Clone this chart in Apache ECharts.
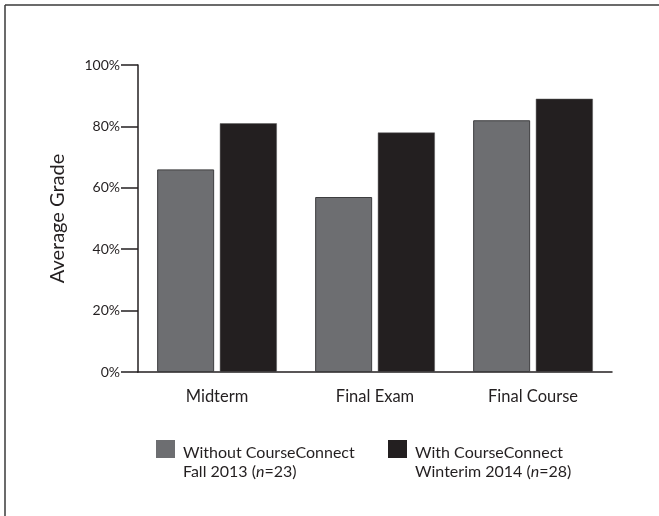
<!DOCTYPE html>
<html>
<head>
<meta charset="utf-8">
<script src="https://cdn.jsdelivr.net/npm/echarts@6/dist/echarts.min.js"></script>
<style>
  html, body { margin: 0; padding: 0; background: #fff; }
  #chart { width: 659px; height: 516px; }
</style>
</head>
<body>
<div id="chart"></div>
<script>
// categories and values (percent)
var categories = ["Midterm", "Final Exam", "Final Course"];
var withoutCC = [66, 57, 82];
var withCC = [81, 78, 89];
var yTicks = [0, 20, 40, 60, 80, 100];

var ink = "#231f20";
var font = "Lato";

var chart = echarts.init(document.getElementById("chart"));

// legend text: a tall blank first line lifts the square up beside the first line
function legendLabel(line1, line2a, line2b) {
  return "{e| }\n{s|" + line1 + "}\n{s|" + line2a + "}{i|n}{t|" + line2b + "}";
}
var legendRich = {
  e: { fontFamily: font, fontSize: 16, lineHeight: 27 },
  s: { fontFamily: font, fontSize: 16, color: ink, lineHeight: 19, padding: [0, 0, 0, 3] },
  t: { fontFamily: font, fontSize: 16, color: ink, lineHeight: 19 },
  i: { fontFamily: font, fontSize: 16, color: ink, lineHeight: 19, fontStyle: "italic" }
};

var option = {
  animation: false,
  backgroundColor: "#fff",
  grid: { left: 138, right: 47, top: 65, bottom: 144 },
  graphic: [
    // figure frame (top and left rules)
    { type: "line", shape: { x1: 5, y1: 5, x2: 659, y2: 5 }, style: { stroke: "#3a3a3a", lineWidth: 1.5 } },
    { type: "line", shape: { x1: 5, y1: 5, x2: 5, y2: 516 }, style: { stroke: "#3a3a3a", lineWidth: 1.5 } }
  ],
  legend: [
    {
      left: 156, top: 422, padding: 0,
      itemWidth: 19, itemHeight: 18,
      icon: "rect",
      itemStyle: { borderWidth: 0 },
      data: ["Without CourseConnect"],
      formatter: function () { return legendLabel("Without CourseConnect", "Fall 2013 (", "=23)"); },
      textStyle: { rich: legendRich }
    },
    {
      left: 388, top: 422, padding: 0,
      itemWidth: 19, itemHeight: 18,
      icon: "rect",
      itemStyle: { borderWidth: 0 },
      data: ["With CourseConnect"],
      formatter: function () { return legendLabel("With CourseConnect", "Winterim 2014 (", "=28)"); },
      textStyle: { rich: legendRich }
    }
  ],
  xAxis: {
    type: "category",
    data: categories,
    axisLine: { lineStyle: { color: ink, width: 1.5 } },
    axisTick: { inside: true, length: 5, lineStyle: { color: ink, width: 1.5 } },
    axisLabel: { margin: 16, fontFamily: font, fontSize: 16.5, color: ink }
  },
  yAxis: {
    type: "value",
    min: 0, max: 100, interval: 20,
    name: "Average Grade",
    nameLocation: "middle",
    nameGap: 70,
    nameTextStyle: { fontFamily: font, fontSize: 20, color: ink },
    axisLine: { show: true, lineStyle: { color: ink, width: 1.5 } },
    axisTick: { show: true, length: 17, lineStyle: { color: ink, width: 1.5 } },
    splitLine: { show: false },
    axisLabel: {
      margin: 18,
      fontFamily: font, fontSize: 14, color: ink,
      formatter: function (v) { return yTicks.indexOf(v) >= 0 ? v + "%" : ""; }
    }
  },
  series: [
    {
      name: "Without CourseConnect",
      type: "bar",
      data: withoutCC,
      barWidth: 57,
      barGap: "10%",
      itemStyle: { color: "#6d6e71", borderColor: "#3d3d3f", borderWidth: 1 }
    },
    {
      name: "With CourseConnect",
      type: "bar",
      data: withCC,
      barWidth: 57,
      itemStyle: { color: ink, borderColor: "#5a5a5a", borderWidth: 0.5 }
    }
  ]
};

chart.setOption(option);
</script>
</body>
</html>
